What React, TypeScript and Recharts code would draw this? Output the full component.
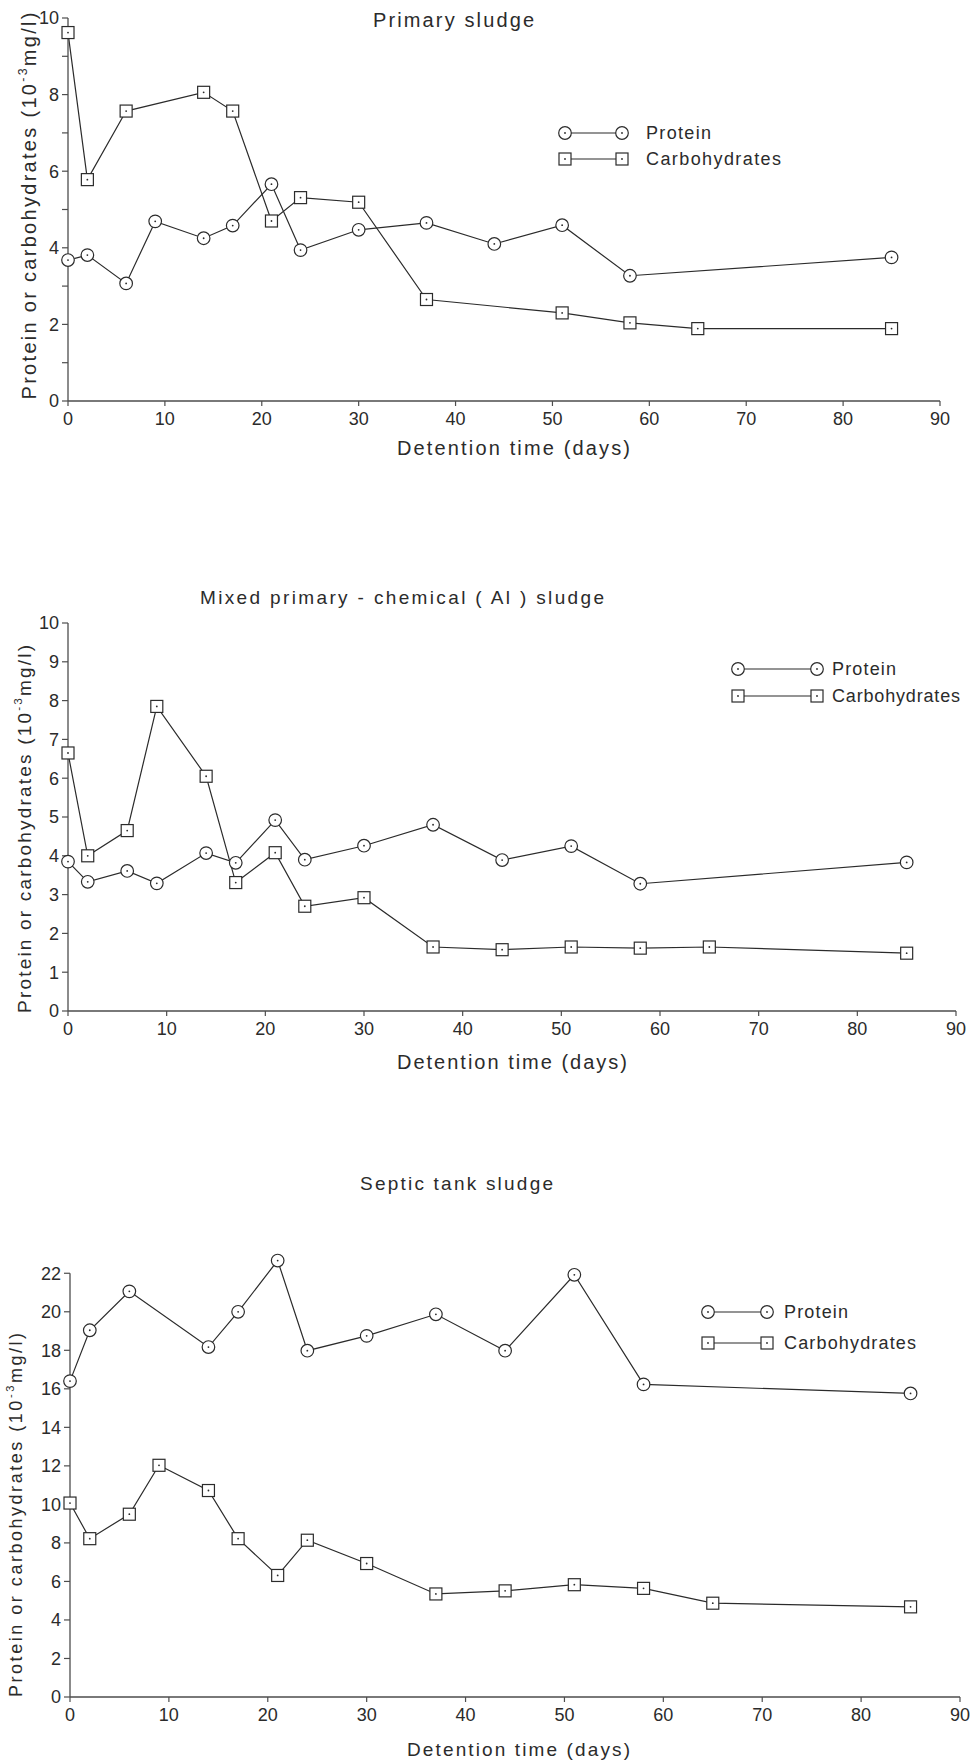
import React from 'react';
import { LineChart, Line, XAxis, YAxis, Legend, ReferenceLine } from 'recharts';

const FONT = "'Liberation Sans', Arial, sans-serif";
const INK = '#2b2b2b';
const AXIS = '#4d4d4d';

// ---------- data ----------
const DAY_TICKS = [0, 10, 20, 30, 40, 50, 60, 70, 80, 90];
const SERIES_NAMES = ['Protein', 'Carbohydrates'];
const X_LABEL = 'Detention time (days)';
const TITLES = ['Primary sludge', 'Mixed primary - chemical ( Al ) sludge', 'Septic tank sludge'];

// Panel 1 – Primary sludge
const P1_PROTEIN_DAYS = [0, 2, 6, 9, 14, 17, 21, 24, 30, 37, 44, 51, 58, 85];
const P1_PROTEIN = [3.68, 3.81, 3.07, 4.69, 4.25, 4.58, 5.66, 3.94, 4.47, 4.65, 4.1, 4.59, 3.27, 3.75];
const P1_CARB_DAYS = [0, 2, 6, 14, 17, 21, 24, 30, 37, 51, 58, 65, 85];
const P1_CARB = [9.62, 5.78, 7.57, 8.06, 7.57, 4.7, 5.31, 5.19, 2.65, 2.3, 2.04, 1.89, 1.89];
const P1_Y_TICKS = [0, 1, 2, 3, 4, 5, 6, 7, 8, 9, 10];

// Panel 2 – Mixed primary-chemical (Al) sludge
const P2_PROTEIN_DAYS = [0, 2, 6, 9, 14, 17, 21, 24, 30, 37, 44, 51, 58, 85];
const P2_PROTEIN = [3.85, 3.33, 3.61, 3.29, 4.07, 3.82, 4.92, 3.9, 4.26, 4.8, 3.89, 4.25, 3.28, 3.83];
const P2_CARB_DAYS = [0, 2, 6, 9, 14, 17, 21, 24, 30, 37, 44, 51, 58, 65, 85];
const P2_CARB = [6.65, 4.0, 4.65, 7.85, 6.05, 3.31, 4.08, 2.7, 2.92, 1.65, 1.58, 1.65, 1.62, 1.65, 1.49];
const P2_Y_TICKS = [0, 1, 2, 3, 4, 5, 6, 7, 8, 9, 10];

// Panel 3 – Septic tank sludge
const P3_PROTEIN_DAYS = [0, 2, 6, 14, 17, 21, 24, 30, 37, 44, 51, 58, 85];
const P3_PROTEIN = [16.4, 19.04, 21.06, 18.17, 20.0, 22.66, 17.98, 18.75, 19.87, 17.98, 21.92, 16.23, 15.76];
const P3_CARB_DAYS = [0, 2, 6, 9, 14, 17, 21, 24, 30, 37, 44, 51, 58, 65, 85];
const P3_CARB = [10.07, 8.22, 9.49, 12.03, 10.72, 8.22, 6.31, 8.14, 6.93, 5.35, 5.51, 5.83, 5.64, 4.87, 4.68];
const P3_Y_TICKS = [0, 2, 4, 6, 8, 10, 12, 14, 16, 18, 20, 22];

const toPoints = (days: number[], vals: number[]) => days.map((d, i) => ({ day: d, value: vals[i] }));

// ---------- markers ----------
function CircleMark(props: any) {
  const { cx, cy, index } = props;
  if (cx == null || cy == null) return <g key={`c${index}`} />;
  return (
    <g key={`c${index}`}>
      <circle cx={cx} cy={cy} r={6.3} fill="#fff" stroke={INK} strokeWidth={1.2} />
      <circle cx={cx} cy={cy} r={0.9} fill={INK} />
    </g>
  );
}

function SquareMark(props: any) {
  const { cx, cy, index } = props;
  if (cx == null || cy == null) return <g key={`s${index}`} />;
  return (
    <g key={`s${index}`}>
      <rect x={cx - 6} y={cy - 6} width={12} height={12} fill="#fff" stroke={INK} strokeWidth={1.2} />
      <circle cx={cx} cy={cy} r={0.9} fill={INK} />
    </g>
  );
}

// ---------- legend ----------
type LegendLayout = { c1: number; c2: number; tx: number; row: number; gap: number; lens: number[]; fs: number };

function makeLegend(lg: LegendLayout) {
  const pad = 10;
  const w = lg.tx - lg.c1 + Math.max(...lg.lens) + 2 * pad;
  const h = lg.gap + 2 * pad;
  return () => (
    <svg width={w} height={h} style={{ display: 'block', overflow: 'visible' }}>
      {SERIES_NAMES.map((name, i) => {
        const y = pad + i * lg.gap;
        const x1 = pad;
        const x2 = pad + (lg.c2 - lg.c1);
        const Mark = i === 0 ? CircleMark : SquareMark;
        return (
          <g key={name}>
            <line x1={x1} y1={y} x2={x2} y2={y} stroke={INK} strokeWidth={1.2} />
            <Mark cx={x1} cy={y} index={`l${i}a`} />
            <Mark cx={x2} cy={y} index={`l${i}b`} />
            <text
              x={pad + (lg.tx - lg.c1)}
              y={y + lg.fs * 0.36}
              fontFamily={FONT}
              fontSize={lg.fs}
              fill={INK}
              textLength={lg.lens[i]}
              lengthAdjust="spacing"
            >
              {name}
            </text>
          </g>
        );
      })}
    </svg>
  );
}

// ---------- panel ----------
type PanelCfg = {
  top: number;
  height: number;
  mTop: number;
  mRight: number;
  mBottom: number;
  yWidth: number;
  yDomain: number[];
  yTicks: number[];
  fmt: (v: number) => string;
  yAxisLine: boolean;
  yAxisTop?: number;
  protein: { day: number; value: number }[];
  carbs: { day: number; value: number }[];
  legend: LegendLayout;
};

function Panel({ cfg }: { cfg: PanelCfg }) {
  const LegendContent = makeLegend(cfg.legend);
  const tickStyle = { fill: INK, fontSize: 18, fontFamily: FONT };
  return (
    <div style={{ position: 'absolute', left: 0, top: cfg.top, width: 974, height: cfg.height }}>
      <LineChart
        width={974}
        height={cfg.height}
        margin={{ top: cfg.mTop, right: cfg.mRight, bottom: cfg.mBottom, left: 0 }}
      >
        <XAxis
          dataKey="day"
          type="number"
          domain={[0, 90]}
          ticks={DAY_TICKS}
          interval={0}
          height={40}
          tickSize={5}
          tickMargin={6}
          axisLine={{ stroke: AXIS, strokeWidth: 1.3 }}
          tickLine={{ stroke: AXIS, strokeWidth: 1.2 }}
          tick={tickStyle}
        />
        <YAxis
          type="number"
          domain={cfg.yDomain}
          ticks={cfg.yTicks}
          interval={0}
          width={cfg.yWidth}
          tickSize={6}
          tickMargin={3}
          tickFormatter={cfg.fmt}
          axisLine={cfg.yAxisLine ? { stroke: AXIS, strokeWidth: 1.3 } : false}
          tickLine={{ stroke: AXIS, strokeWidth: 1.2 }}
          tick={tickStyle}
        />
        {!cfg.yAxisLine && cfg.yAxisTop != null && (
          <ReferenceLine
            segment={[
              { x: 0, y: 0 },
              { x: 0, y: cfg.yAxisTop },
            ]}
            stroke={AXIS}
            strokeWidth={1.3}
          />
        )}
        <Line
          data={cfg.carbs}
          dataKey="value"
          name={SERIES_NAMES[1]}
          stroke={INK}
          strokeWidth={1.2}
          dot={(p: any) => <SquareMark {...p} key={`sq${p.index}`} />}
          activeDot={false}
          isAnimationActive={false}
        />
        <Line
          data={cfg.protein}
          dataKey="value"
          name={SERIES_NAMES[0]}
          stroke={INK}
          strokeWidth={1.2}
          dot={(p: any) => <CircleMark {...p} key={`ci${p.index}`} />}
          activeDot={false}
          isAnimationActive={false}
        />
        <Legend
          layout="vertical"
          align="center"
          verticalAlign="middle"
          wrapperStyle={{
            left: cfg.legend.c1 - 10,
            top: cfg.legend.row - cfg.top - 10,
            width: 'auto',
            height: 'auto',
          }}
          content={LegendContent}
        />
      </LineChart>
    </div>
  );
}

const evenOnly = (v: number) => (v % 2 === 0 ? String(v) : '');
const all = (v: number) => String(v);

const PANELS: PanelCfg[] = [
  {
    top: 0,
    height: 470,
    mTop: 18,
    mRight: 34,
    mBottom: 29,
    yWidth: 68,
    yDomain: [0, 10],
    yTicks: P1_Y_TICKS,
    fmt: evenOnly,
    yAxisLine: true,
    protein: toPoints(P1_PROTEIN_DAYS, P1_PROTEIN),
    carbs: toPoints(P1_CARB_DAYS, P1_CARB),
    legend: { c1: 565, c2: 622, tx: 646, row: 133, gap: 26, lens: [65, 135], fs: 18 },
  },
  {
    top: 560,
    height: 520,
    mTop: 63,
    mRight: 18,
    mBottom: 29,
    yWidth: 68,
    yDomain: [0, 10],
    yTicks: P2_Y_TICKS,
    fmt: all,
    yAxisLine: true,
    protein: toPoints(P2_PROTEIN_DAYS, P2_PROTEIN),
    carbs: toPoints(P2_CARB_DAYS, P2_CARB),
    legend: { c1: 738, c2: 817, tx: 832, row: 669, gap: 27, lens: [64, 128], fs: 18 },
  },
  {
    top: 1180,
    height: 581,
    mTop: 74,
    mRight: 14,
    mBottom: 24,
    yWidth: 70,
    yDomain: [0, 23],
    yTicks: P3_Y_TICKS,
    fmt: all,
    yAxisLine: false,
    yAxisTop: 22,
    protein: toPoints(P3_PROTEIN_DAYS, P3_PROTEIN),
    carbs: toPoints(P3_CARB_DAYS, P3_CARB),
    legend: { c1: 708, c2: 767, tx: 784, row: 1312, gap: 31, lens: [64, 132], fs: 18 },
  },
];

// text placements (page coordinates)
const TITLE_POS = [
  { x: 373, y: 20, len: 161, fs: 20 },
  { x: 200, y: 597, len: 404, fs: 19 },
  { x: 360, y: 1183, len: 193, fs: 19 },
];
const XLABEL_POS = [
  { x: 397, y: 448, len: 233, fs: 20 },
  { x: 397, y: 1062, len: 230, fs: 20 },
  { x: 407, y: 1749, len: 223, fs: 19 },
];
const YLABEL_POS = [
  { x: 29, cy: 206, len: 387, fs: 20 },
  { x: 24, cy: 829, len: 368, fs: 19 },
  { x: 16, cy: 1515, len: 364, fs: 18 },
];

function YLabel({ x, cy, len, fs }: { x: number; cy: number; len: number; fs: number }) {
  const bx = x + fs * 0.36;
  return (
    <text
      x={bx}
      y={cy}
      transform={`rotate(-90 ${bx} ${cy})`}
      textAnchor="middle"
      fontFamily={FONT}
      fontSize={fs}
      fill={INK}
      textLength={len}
      lengthAdjust="spacing"
    >
      Protein or carbohydrates (10
      <tspan dy={-fs * 0.45} fontSize={fs * 0.62}>
        -3
      </tspan>
      <tspan dy={fs * 0.45}>mg/l)</tspan>
    </text>
  );
}

export default function App() {
  return (
    <div style={{ position: 'absolute', left: 0, top: 0, width: 974, height: 1761, background: '#fff' }}>
      {PANELS.map((cfg, i) => (
        <Panel key={i} cfg={cfg} />
      ))}
      <svg
        width={974}
        height={1761}
        style={{ position: 'absolute', left: 0, top: 0, pointerEvents: 'none' }}
      >
        {TITLES.map((t, i) => (
          <text
            key={`t${i}`}
            x={TITLE_POS[i].x}
            y={TITLE_POS[i].y + TITLE_POS[i].fs * 0.36}
            fontFamily={FONT}
            fontSize={TITLE_POS[i].fs}
            fill={INK}
            textLength={TITLE_POS[i].len}
            lengthAdjust="spacing"
          >
            {t}
          </text>
        ))}
        {XLABEL_POS.map((p, i) => (
          <text
            key={`x${i}`}
            x={p.x}
            y={p.y + p.fs * 0.36}
            fontFamily={FONT}
            fontSize={p.fs}
            fill={INK}
            textLength={p.len}
            lengthAdjust="spacing"
          >
            {X_LABEL}
          </text>
        ))}
        {YLABEL_POS.map((p, i) => (
          <YLabel key={`y${i}`} {...p} />
        ))}
      </svg>
    </div>
  );
}
